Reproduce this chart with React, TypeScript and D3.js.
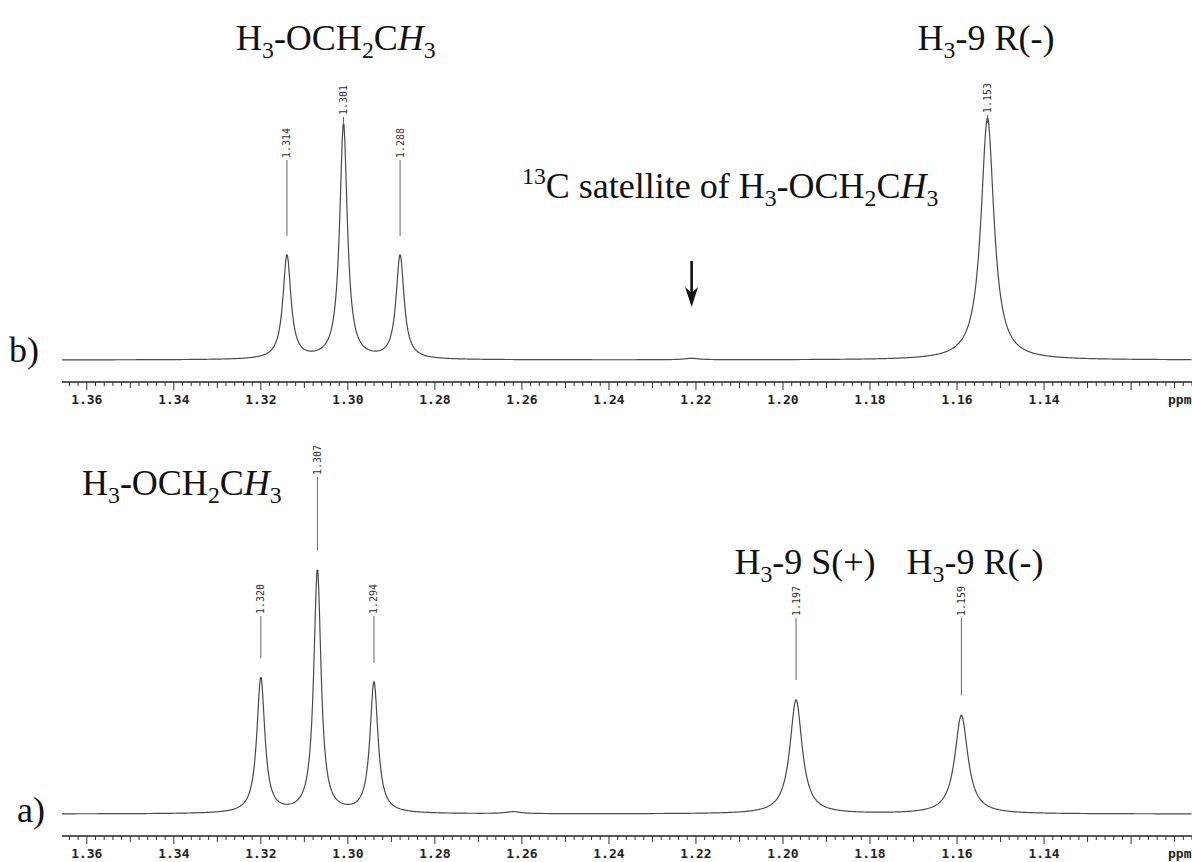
import React from "react";
import * as d3 from "d3";

// ---------- data ----------
const tickValues = [1.36, 1.34, 1.32, 1.3, 1.28, 1.26, 1.24, 1.22, 1.2, 1.18, 1.16, 1.14];
const axisUnit = "ppm";

// spectrum b (peak list)
const peakPpmB = [1.314, 1.301, 1.288, 1.153, 1.221];
const peakHeightB = [0.43, 0.975, 0.43, 1.0, 0.006];
const peakWidthB = [0.0022, 0.0021, 0.0022, 0.0036, 0.004];
const peakLabelsB = ["1.314", "1.301", "1.288", "1.153"];

// spectrum a
const peakPpmA = [1.32, 1.307, 1.294, 1.197, 1.159, 1.262];
const peakHeightA = [0.556, 1.0, 0.538, 0.467, 0.404, 0.008];
const peakWidthA = [0.0022, 0.002, 0.0022, 0.0034, 0.0036, 0.004];
const peakLabelsA = ["1.320", "1.307", "1.294", "1.197", "1.159"];

type Piece = { t: string; sub?: boolean; sup?: boolean; it?: boolean };
const ethylTitle: Piece[] = [
  { t: "H" }, { t: "3", sub: true }, { t: "-OCH" }, { t: "2", sub: true }, { t: "C" }, { t: "H", it: true }, { t: "3", sub: true },
];
const rTitle: Piece[] = [{ t: "H" }, { t: "3", sub: true }, { t: "-9 R(-)" }];
const sTitle: Piece[] = [{ t: "H" }, { t: "3", sub: true }, { t: "-9 S(+)" }];
const satTitle: Piece[] = [
  { t: "13", sup: true }, { t: "C satellite of H" }, { t: "3", sub: true }, { t: "-OCH" }, { t: "2", sub: true }, { t: "C" }, { t: "H", it: true }, { t: "3", sub: true },
];

// ---------- layout ----------
const W = 1192;
const H = 862;
const X0 = 62;
const X1 = 1192;
const SERIF = "'Liberation Serif', 'Times New Roman', serif";
const MONO = "'DejaVu Sans Mono', monospace";
const TITLE = 36;

const x = d3.scaleLinear().domain([1.3657, 1.106]).range([X0, X1]);

function Formula({ px, py, size, pieces, anchor = "start" }: { px: number; py: number; size: number; pieces: Piece[]; anchor?: string }) {
  let shift = 0;
  const spans = pieces.map((p, i) => {
    const target = p.sub ? size * 0.22 : p.sup ? -size * 0.38 : 0;
    const dy = target - shift;
    shift = target;
    return (
      <tspan key={i} dy={dy} fontSize={p.sub || p.sup ? size * 0.66 : size} fontStyle={p.it ? "italic" : "normal"}>
        {p.t}
      </tspan>
    );
  });
  return (
    <text x={px} y={py} fontFamily={SERIF} fontSize={size} textAnchor={anchor as any} fill="#111">
      {spans}
    </text>
  );
}

function Spectrum({ ppm, height, width, baseY, scaleH }: { ppm: number[]; height: number[]; width: number[]; baseY: number; scaleH: number }) {
  const [d0, d1] = x.domain();
  const pts: [number, number][] = [];
  for (let v = d0; v >= d1; v -= 0.0002) {
    let s = 0;
    for (let i = 0; i < ppm.length; i++) {
      const u = (v - ppm[i]) / (width[i] / 2);
      s += height[i] / (1 + u * u);
    }
    pts.push([v, s]);
  }
  const y = d3.scaleLinear().domain([0, 1]).range([baseY, baseY - scaleH]);
  const line = d3.line<[number, number]>().x((d) => x(d[0])).y((d) => y(d[1]));
  return <path d={line(pts) || ""} fill="none" stroke="#4a4a4a" strokeWidth={1.2} />;
}

function Axis({ axisY }: { axisY: number }) {
  const minor = d3.range(0, 131).map((i) => +(1.366 - i * 0.002).toFixed(3)).filter((v) => x(v) >= X0 && x(v) <= X1);
  return (
    <g>
      <line x1={X0} x2={X1} y1={axisY} y2={axisY} stroke="#222" strokeWidth={1.3} />
      {minor.map((v, i) => {
        const isMajor = Math.abs(v * 50 - Math.round(v * 50)) < 1e-6;
        const isMid = Math.abs(v * 100 - Math.round(v * 100)) < 1e-6;
        const len = isMajor ? 8 : isMid ? 6 : 4;
        return <line key={i} x1={x(v)} x2={x(v)} y1={axisY} y2={axisY + len} stroke="#333" strokeWidth={1} />;
      })}
      {tickValues.map((v) => (
        <text key={v} x={x(v)} y={axisY + 22} textAnchor="middle" fontFamily={MONO} fontWeight="bold" fontSize={13} fill="#222">
          {v.toFixed(2)}
        </text>
      ))}
      <text x={1168} y={axisY + 22} fontFamily={MONO} fontWeight="bold" fontSize={13} fill="#222">
        {axisUnit}
      </text>
    </g>
  );
}

function PeakLabels({ ppm, height, labels, baseY, scaleH, textBottoms }: { ppm: number[]; height: number[]; labels: string[]; baseY: number; scaleH: number; textBottoms: number[] }) {
  return (
    <g>
      {labels.map((lab, i) => {
        const px = x(ppm[i]);
        const top = baseY - height[i] * scaleH;
        const tb = textBottoms[i];
        const lineEnd = Math.max(tb + 10, top - 20);
        return (
          <g key={lab}>
            <text transform={`translate(${px + 3.5},${tb}) rotate(-90)`} fontFamily={MONO} fontSize={10} fill="#333">
              {lab}
            </text>
            <line x1={px} x2={px} y1={tb + 2} y2={lineEnd} stroke="#555" strokeWidth={0.9} />
          </g>
        );
      })}
    </g>
  );
}

export default function App() {
  const baseB = 360;
  const scaleB = 242;
  const baseA = 814;
  const scaleA = 244;
  const arrowX = x(peakPpmB[4]);
  return (
    <svg width={W} height={H} style={{ position: "absolute", left: 0, top: 0, background: "#fff" }}>
      <rect width={W} height={H} fill="#fff" />
      {/* panel b */}
      <Formula px={236} py={50} size={TITLE} pieces={ethylTitle} />
      <Formula px={986} py={50} size={TITLE} pieces={rTitle} anchor="middle" />
      <Formula px={522} py={198} size={TITLE} pieces={satTitle} />
      <line x1={arrowX} x2={arrowX} y1={261} y2={296} stroke="#111" strokeWidth={2.6} />
      <path d={`M${arrowX - 6.5},${287} L${arrowX},${307} L${arrowX + 6.5},${287} L${arrowX},${293} Z`} fill="#111" />
      <PeakLabels ppm={peakPpmB} height={peakHeightB} labels={peakLabelsB} baseY={baseB} scaleH={scaleB} textBottoms={[158, 115, 158, 113]} />
      <Spectrum ppm={peakPpmB} height={peakHeightB} width={peakWidthB} baseY={baseB} scaleH={scaleB} />
      <Axis axisY={382} />
      <text x={9} y={362} fontFamily={SERIF} fontSize={36} fill="#111">b)</text>

      {/* panel a */}
      <Formula px={82} py={495} size={TITLE} pieces={ethylTitle} />
      <Formula px={805} py={574} size={TITLE} pieces={sTitle} anchor="middle" />
      <Formula px={975} py={574} size={TITLE} pieces={rTitle} anchor="middle" />
      <PeakLabels ppm={peakPpmA} height={peakHeightA} labels={peakLabelsA} baseY={baseA} scaleH={scaleA} textBottoms={[614, 475, 614, 616, 616]} />
      <Spectrum ppm={peakPpmA} height={peakHeightA} width={peakWidthA} baseY={baseA} scaleH={scaleA} />
      <Axis axisY={836} />
      <text x={17} y={822} fontFamily={SERIF} fontSize={36} fill="#111">a)</text>
    </svg>
  );
}
